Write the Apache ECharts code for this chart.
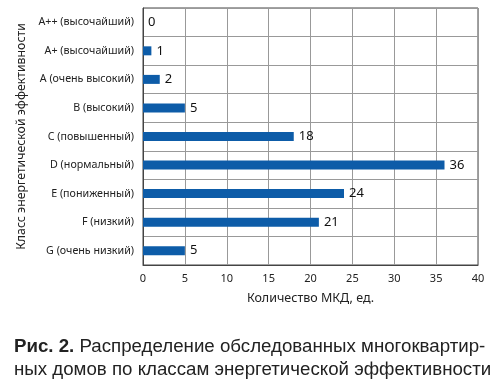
<!DOCTYPE html>
<html><head><meta charset="utf-8">
<script src="https://cdn.jsdelivr.net/npm/echarts@6/dist/echarts.min.js"></script>
<style>html,body{margin:0;padding:0;background:#fff}#c{width:500px;height:385px}</style>
</head><body><div id="c"></div>
<script>
const categories = ["A++ (высочайший)","A+ (высочайший)","A (очень высокий)","B (высокий)","C (повышенный)","D (нормальный)","E (пониженный)","F (низкий)","G (очень низкий)"];
const values = [0,1,2,5,18,36,24,21,5];
const xTicks = [0,5,10,15,20,25,30,35,40];
const yTitle = "Класс энергетической эффективности";
const xTitle = "Количество МКД, ед.";
const captionBold = "Рис. 2.";
const captionLine1 = " Распределение обследованных многоквартир-";
const captionLine2 = "ных домов по классам энергетической эффективности";

const chart = echarts.init(document.getElementById('c'));
const font = "Noto Sans";
chart.setOption({
  animation:false,
  grid:{left:143,right:22,top:8,bottom:120,show:true,borderColor:'#444',borderWidth:1},
  xAxis:{type:'value',min:xTicks[0],max:xTicks[xTicks.length-1],interval:5,
    axisLine:{show:true,lineStyle:{color:'#444'}},axisTick:{show:false},
    axisLabel:{color:'#222',fontFamily:font,fontSize:11,margin:8},
    splitLine:{show:true,lineStyle:{color:'#999',width:1}},
    name:xTitle,nameLocation:'middle',nameGap:27,
    nameTextStyle:{color:'#222',fontFamily:font,fontSize:12.5}},
  yAxis:{type:'category',data:categories,inverse:true,
    axisLine:{show:true,lineStyle:{color:'#444'}},axisTick:{show:false},
    axisLabel:{color:'#222',fontFamily:font,fontSize:10.7,margin:9},
    splitLine:{show:true,lineStyle:{color:'#999',width:1}},
    name:yTitle,nameLocation:'middle',nameGap:114,nameRotate:90,
    nameTextStyle:{color:'#222',fontFamily:font,fontSize:12.3}},
  series:[{type:'bar',data:values,barWidth:9,itemStyle:{color:'#0d5ca8'},
    label:{show:true,position:'right',distance:5,color:'#111',fontFamily:font,fontSize:13}}],
  graphic:[
    {type:'text',left:14,top:337,style:{
      text:'{b|'+captionBold+'}{n|'+captionLine1+'}',
      rich:{b:{fontWeight:'bold',fontFamily:'Liberation Sans',fontSize:18.7,fill:'#222'},
            n:{fontFamily:'Liberation Sans',fontSize:18.7,fill:'#222'}}}},
    {type:'text',left:14,top:360,style:{text:captionLine2,fontFamily:'Liberation Sans',fontSize:18.7,fill:'#222'}}
  ]
});
</script></body></html>
